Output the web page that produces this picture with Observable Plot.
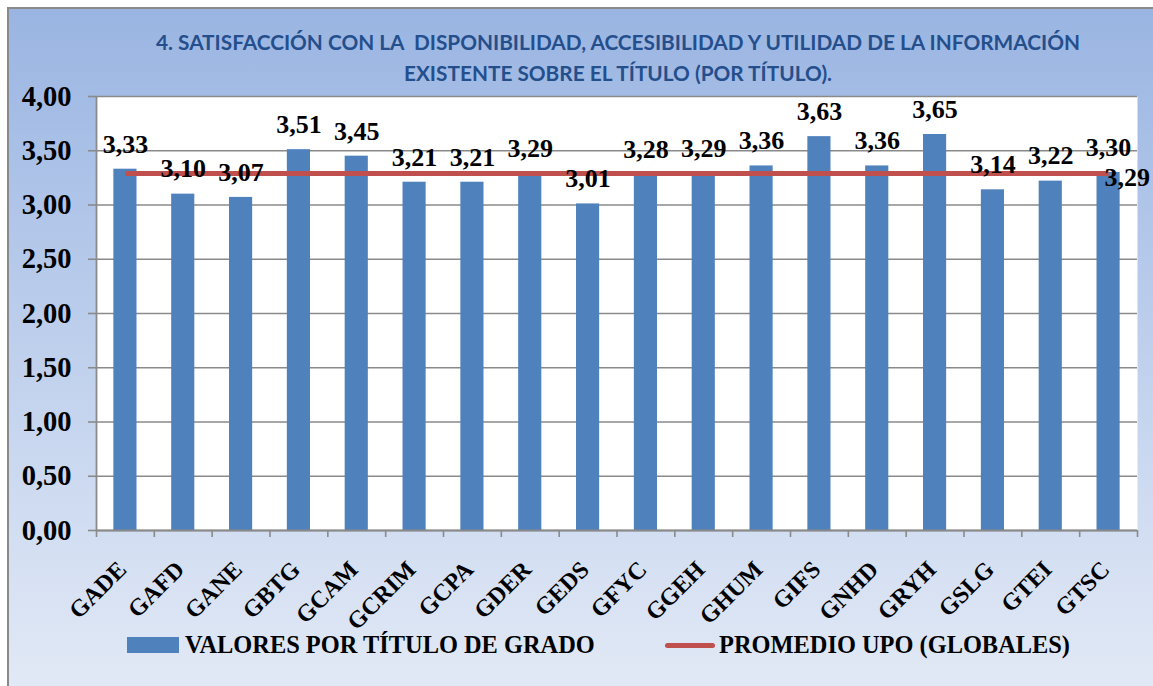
<!DOCTYPE html>
<html>
<head>
<meta charset="utf-8">
<script src="https://cdn.jsdelivr.net/npm/d3@7"></script>
<script src="https://cdn.jsdelivr.net/npm/@observablehq/plot@0.6"></script>
<style>
  html, body { margin: 0; padding: 0; }
  body { width: 1153px; height: 686px; overflow: hidden; position: relative; background: #fff; }
  #frame { position: absolute; left: 7px; top: 7px; width: 1150px; height: 690px;
    border-left: 2px solid #8a8a8a; border-top: 2px solid #8a8a8a;
    background: linear-gradient(to bottom, #9ab5e2 0%, #c3d3ee 55%, #e3eaf6 100%); }
  #title { position: absolute; left: 0; top: 26px; width: 1236px; text-align: center;
    font-family: Lato, "Open Sans", sans-serif; font-weight: bold; font-size: 20.8px;
    line-height: 31px; color: #244f8c; }
  #chart { position: absolute; left: 0; top: 88px; }
  #legend { position: absolute; left: 0; top: 630px; width: 1153px; height: 30px;
    font-family: "Liberation Serif", serif; font-weight: bold; font-size: 24.4px; color: #000; }
  .item { position: absolute; top: 0; display: flex; align-items: center; height: 30px; }
  .sw-bar { width: 52px; height: 16px; background: #4f81bd; margin-right: 6px; }
  .sw-line { width: 50px; height: 5px; background: #c0504d; border-radius: 3px; margin-right: 4px; }
</style>
</head>
<body>
<div id="frame"></div>
<div id="title">4. SATISFACCIÓN CON LA&nbsp; DISPONIBILIDAD, ACCESIBILIDAD Y UTILIDAD DE LA INFORMACIÓN<br>EXISTENTE SOBRE EL TÍTULO (POR TÍTULO).</div>
<div id="chart"></div>
<div id="legend">
  <div class="item" style="left:127px"><div class="sw-bar"></div><span id="lg1"></span></div>
  <div class="item" style="left:665px"><div class="sw-line"></div><span id="lg2"></span></div>
</div>
<script>
const categories = ["GADE","GAFD","GANE","GBTG","GCAM","GCRIM","GCPA","GDER","GEDS","GFYC","GGEH","GHUM","GIFS","GNHD","GRYH","GSLG","GTEI","GTSC"];
const valores = [3.33,3.10,3.07,3.51,3.45,3.21,3.21,3.29,3.01,3.28,3.29,3.36,3.63,3.36,3.65,3.14,3.22,3.30];
const promedio = 3.29;
const yTicks = [0,0.5,1,1.5,2,2.5,3,3.5,4];
const seriesNames = ["VALORES POR TÍTULO DE GRADO", "PROMEDIO UPO (GLOBALES)"];

document.getElementById("lg1").textContent = seriesNames[0];
document.getElementById("lg2").textContent = seriesNames[1];

const data = categories.map((c, i) => ({cat: c, v: valores[i]}));
const fmt = d => d.toFixed(2).replace(".", ",");

const W = 1153, ML = 96, MR = 16;
const step = (W - ML - MR) / categories.length;
const grid = "#8a8a8a";

const chart = Plot.plot({
  width: W,
  height: 527,
  marginLeft: ML,
  marginRight: MR,
  marginTop: 8,
  marginBottom: 85,
  style: {background: "transparent", fontFamily: "'Liberation Serif', serif", fontWeight: "bold", color: "#000", overflow: "visible"},
  x: {domain: categories, paddingInner: 0.6, paddingOuter: 0.3, round: false},
  y: {domain: [0, 4]},
  marks: [
    Plot.frame({fill: "white", stroke: null}),
    Plot.gridY(yTicks, {stroke: grid, strokeOpacity: 1, strokeWidth: 1.6}),
    Plot.axisY(yTicks, {tickFormat: fmt, tickSize: 8, tickPadding: 17, fontSize: 28.5, stroke: grid, strokeWidth: 1.6, label: null}),
    Plot.axisX({tickSize: 7, tickFormat: () => "", dx: -step / 2, stroke: grid, strokeWidth: 1.6, label: null}),
    Plot.axisX([categories[categories.length - 1]], {tickSize: 7, tickFormat: () => "", dx: step / 2, stroke: grid, strokeWidth: 1.6, label: null}),
    Plot.axisX({tickSize: 0, tickRotate: -45, tickPadding: 35, dx: -3, fontSize: 24, label: null}),
    Plot.barY(data, {x: "cat", y: "v", fill: "#4f81bd"}),
    Plot.ruleX([categories[0]], {dx: -step / 2, y1: 0, y2: 4, stroke: grid, strokeWidth: 1.8}),
    Plot.ruleY([0], {stroke: grid, strokeWidth: 1.8}),
    Plot.line(categories, {x: d => d, y: () => promedio, stroke: "#c0504d", strokeWidth: 5, strokeLinecap: "butt"}),
    Plot.text(data, {x: "cat", y: "v", text: d => fmt(d.v), dy: -25, fontSize: 26, fill: "#000"}),
    Plot.text([promedio], {x: () => categories[categories.length - 1], y: d => d, text: d => fmt(d), textAnchor: "start", dx: -4, dy: 4, fontSize: 26, fill: "#000"})
  ]
});
document.getElementById("chart").appendChild(chart);
</script>
</body>
</html>
